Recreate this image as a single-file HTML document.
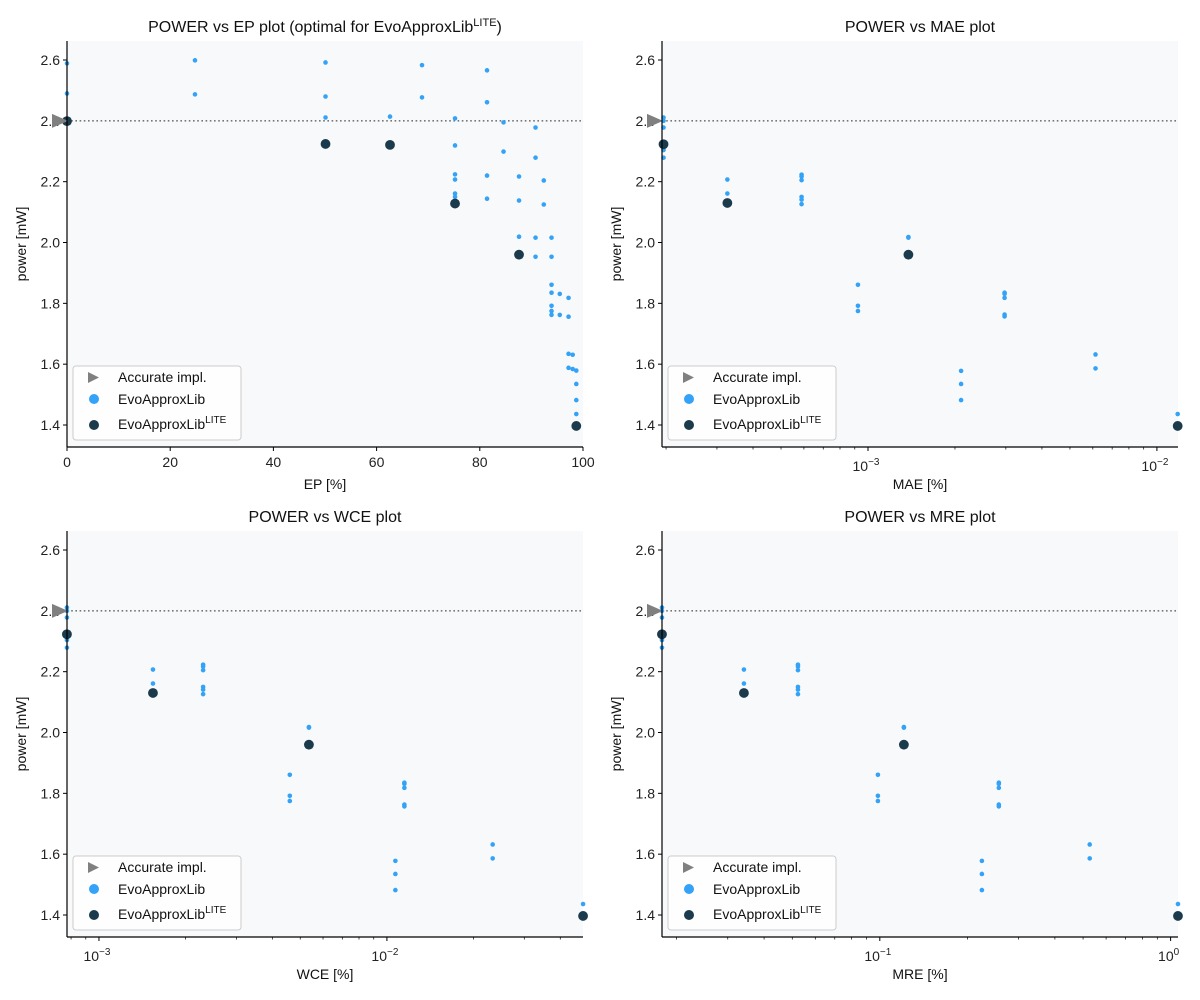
<!DOCTYPE html>
<html><head><meta charset="utf-8"><style>
body{margin:0;background:#fff;}
svg{display:block;font-family:"Liberation Sans","DejaVu Sans",sans-serif;}
</style></head><body>
<svg id="fig" width="1200" height="1000" viewBox="0 0 1200 1000"></svg>
<script>
// ---- data ----
const epX = [0,0,24.8,24.8,50.1,50.1,50.1,62.6,68.8,68.8,75.2,75.2,75.2,75.2,75.2,75.2,81.4,81.4,81.4,81.4,84.6,84.6,87.6,87.6,87.6,90.8,90.8,90.8,90.8,92.4,92.4,93.9,93.9,93.9,93.9,93.9,93.9,93.9,95.5,95.5,97.2,97.2,97.2,98.0,97.2,98.0,98.7,98.7,98.7,98.7];
const epPower = [2.589,2.49,2.599,2.487,2.592,2.48,2.411,2.414,2.583,2.477,2.408,2.319,2.224,2.207,2.161,2.15,2.566,2.461,2.22,2.144,2.395,2.299,2.217,2.138,2.019,2.378,2.279,1.953,2.016,2.204,2.125,2.016,1.953,1.861,1.835,1.792,1.775,1.762,1.831,1.762,1.818,1.756,1.634,1.631,1.588,1.584,1.579,1.535,1.482,1.436];
const epLiteX = [0,50.1,62.6,75.2,87.6,98.7];
const epLitePower = [2.399,2.324,2.321,2.128,1.96,1.397];

// clusters shared by the error-metric plots
const clusterPower = [[2.411,2.40,2.378,2.304,2.279],[2.207,2.161],[2.223,2.217,2.205,2.150,2.141,2.126],[1.861,1.792,1.775],[2.018,2.016],[1.578,1.535,1.482],[1.835,1.831,1.818,1.763,1.757],[1.632,1.586],[1.436]];
const maeX = [1.96e-4,3.26e-4,5.89e-4,9.23e-4,1.38e-3,2.10e-3,2.97e-3,6.13e-3,1.18e-2];
const wceX = [7.74e-4,1.54e-3,2.30e-3,4.60e-3,5.36e-3,1.07e-2,1.15e-2,2.33e-2,4.80e-2];
const mreX = [0.01782,0.0341,0.0523,0.0985,0.121,0.2244,0.2566,0.527,1.06];
const liteIdx = [0,1,4,8];
const litePowerLog = [2.323,2.13,1.96,1.397];
const accuratePower = 2.4;
const yTicks = [1.4,1.6,1.8,2.0,2.2,2.4,2.6];
const epTicks = [0,20,40,60,80,100];

// ---- drawing ----
const NS='http://www.w3.org/2000/svg';
const fig=document.getElementById('fig');
function mk(tag,attrs,parent,text){const e=document.createElementNS(NS,tag);for(const k in attrs)e.setAttribute(k,attrs[k]);if(text!==undefined)e.textContent=text;(parent||fig).appendChild(e);return e;}

function panel(o){
  const L=o.left,R=o.left+516,T=o.top,B=o.top+406;
  const g=mk('g',{});
  
  
  const y=v=>T+(2.6625-v)/(2.6625-1.3277)*406;
  const x=o.log?(v=>L+(Math.log10(v)-o.dmin)/(o.dmax-o.dmin)*516):(v=>L+(v-o.dmin)/(o.dmax-o.dmin)*516);
  const bg=mk('rect',{x:L,y:T,width:516,height:406,fill:'#f8f9fb'},g);
  
  yTicks.forEach(v=>{const yy=y(v);mk('line',{x1:L-4,x2:L,y1:yy,y2:yy,stroke:'#000','stroke-width':1},g);
    const t=mk('text',{x:L-7,y:yy+5,'text-anchor':'end','font-size':14,fill:'#222'},g,v.toFixed(1));
    });
  if(!o.log){epTicks.forEach(v=>{const xx=x(v);mk('line',{x1:xx,x2:xx,y1:B,y2:B+4,stroke:'#000'},g);
    const t=mk('text',{x:xx,y:B+20,'text-anchor':'middle','font-size':14,fill:'#222'},g,String(v));
    });}
  else{for(let d=Math.floor(o.dmin);d<=Math.ceil(o.dmax);d++){for(let m=1;m<10;m++){const lv=d+Math.log10(m);if(lv<o.dmin-1e-9||lv>o.dmax+1e-9)continue;const xx=L+(lv-o.dmin)/(o.dmax-o.dmin)*516;
      mk('line',{x1:xx,x2:xx,y1:B,y2:B+(m===1?4:2.5),stroke:'#000','stroke-width':m===1?1:0.7},g);
      if(m===1){const t=mk('text',{x:xx-2,y:B+24,'text-anchor':'middle','font-size':14,fill:'#222'},g);
        
        mk('tspan',{},t,'10');mk('tspan',{dy:-6,'font-size':10},t,d===0?'0':'\u2212'+(-d));}}}}
  mk('line',{x1:L,x2:R,y1:y(accuratePower),y2:y(accuratePower),stroke:'#777','stroke-width':1.6,'stroke-dasharray':'1.6 2.6'},g);
  o.pts.forEach(([px,pp])=>{const c=mk('circle',{cx:x(px),cy:y(pp),r:2.3,fill:'#33a2f7'},g);
    });
  o.lite.forEach(([px,pp])=>{const c=mk('circle',{cx:x(px),cy:y(pp),r:4.9,fill:'#1b3a4b'},g);
    });
  const ay=y(accuratePower);
  const tri=mk('polygon',{points:`${L-15},${ay-7} ${L-15},${ay+7} ${L+1},${ay}`,fill:'#808080'},g);
  
  mk('line',{x1:L,x2:L,y1:T,y2:B,stroke:'#000','stroke-width':1.2},g);
  mk('line',{x1:L,x2:R,y1:B,y2:B,stroke:'#000','stroke-width':1.2},g);
  const tt=mk('text',{x:L+258,y:T-9,'text-anchor':'middle','font-size':16,fill:'#111'},g,o.title);
  
  if(o.titleSup){mk('tspan',{dy:-6,'font-size':11},tt,'LITE');mk('tspan',{dy:6},tt,')');}
  const xl=mk('text',{x:L+258,y:B+42,'text-anchor':'middle','font-size':14,fill:'#111'},g,o.xlabel);
  
  const yl=mk('text',{x:0,y:0,'text-anchor':'middle','font-size':14,fill:'#111',transform:`translate(${L-41},${T+203}) rotate(-90)`},g,'power [mW]');
  
  const lg=mk('g',{},g);
  mk('rect',{x:L+6,y:T+325,width:168,height:74,rx:3,fill:'#fff','fill-opacity':0.85,stroke:'#ccc'},lg);
  mk('polygon',{points:`${L+21},${T+331} ${L+21},${T+342} ${L+32},${T+336.5}`,fill:'#808080'},lg);
  mk('text',{x:L+51,y:T+341,'font-size':14,fill:'#111'},lg,'Accurate impl.');
  mk('circle',{cx:L+27,cy:T+358,r:5,fill:'#33a2f7'},lg);
  mk('text',{x:L+51,y:T+363,'font-size':14,fill:'#111'},lg,'EvoApproxLib');
  mk('circle',{cx:L+27,cy:T+384,r:5,fill:'#1b3a4b'},lg);
  const lt=mk('text',{x:L+51,y:T+388,'font-size':14,fill:'#111'},lg,'EvoApproxLib');
  mk('tspan',{dy:-6,'font-size':10},lt,'LITE');
}
function clusterPts(xs){const p=[];clusterPower.forEach((ps,i)=>ps.forEach(v=>p.push([xs[i],v])));return p;}
function litePts(xs){return liteIdx.map((i,k)=>[xs[i],litePowerLog[k]]);}

panel({name:'ep-panel',left:67,top:41,log:false,dmin:0,dmax:100,title:'POWER vs EP plot (optimal for EvoApproxLib',titleSup:true,xlabel:'EP [%]',
  pts:epX.map((v,i)=>[v,epPower[i]]),lite:epLiteX.map((v,i)=>[v,epLitePower[i]])});
panel({name:'mae-panel',left:662,top:41,log:true,dmin:-3.713,dmax:-1.927,title:'POWER vs MAE plot',xlabel:'MAE [%]',pts:clusterPts(maeX),lite:litePts(maeX)});
panel({name:'wce-panel',left:67,top:531,log:true,dmin:-3.111,dmax:-1.319,title:'POWER vs WCE plot',xlabel:'WCE [%]',pts:clusterPts(wceX),lite:litePts(wceX)});
panel({name:'mre-panel',left:662,top:531,log:true,dmin:-1.749,dmax:0.0254,title:'POWER vs MRE plot',xlabel:'MRE [%]',pts:clusterPts(mreX),lite:litePts(mreX)});
</script>
</body></html>
